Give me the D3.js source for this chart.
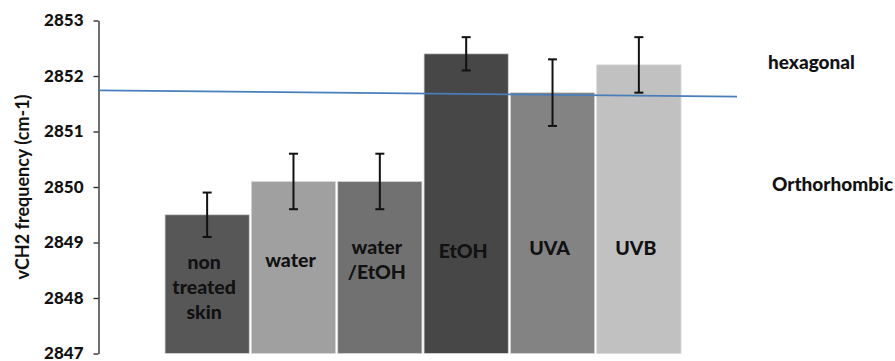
<!DOCTYPE html>
<html>
<head>
<meta charset="utf-8">
<script src="https://cdn.jsdelivr.net/npm/d3@7"></script>
<style>
  html, body { margin: 0; padding: 0; background: #fff; }
  svg { display: block; }
  text { font-family: Lato, "Open Sans", sans-serif; fill: #111; }
</style>
</head>
<body>
<svg id="chart" width="895" height="361"></svg>
<script>
// Treatments and mean CH2 stretching frequency with standard deviation
const categories = ["non treated skin", "water", "water /EtOH", "EtOH", "UVA", "UVB"];
const labelLines = [["non", "treated", "skin"], ["water"], ["water", "/EtOH"], ["EtOH"], ["UVA"], ["UVB"]];
const meanFreq = [2849.5, 2850.1, 2850.1, 2852.4, 2851.7, 2852.2];
const stdDev   = [0.4, 0.5, 0.5, 0.3, 0.6, 0.5];
const barColors = ["#575757", "#a0a0a0", "#717171", "#474747", "#838383", "#c1c1c1"];
const yTicks = [2847, 2848, 2849, 2850, 2851, 2852, 2853];
// Phase boundary line (start and end level)
const phaseBoundary = [2851.74, 2851.63];
const phaseLabels = ["hexagonal", "Orthorhombic"];
const phaseLabelValues = [2852.25, 2850.05];

const svg = d3.select("#chart");
const axisX = 98.5;

const y = d3.scaleLinear().domain([2847, 2853]).range([353.5, 20.5]);
const x = d3.scaleBand().domain(categories).range([165, 681]).paddingInner(0.024).paddingOuter(0);

// Bars
svg.append("g").selectAll("rect")
  .data(categories)
  .join("rect")
  .attr("x", d => x(d))
  .attr("width", x.bandwidth())
  .attr("y", (d, i) => y(meanFreq[i]))
  .attr("height", (d, i) => y(2847) - y(meanFreq[i]))
  .attr("fill", (d, i) => barColors[i])
  .attr("stroke", "#d8d8d8")
  .attr("stroke-width", 0.8);

// Labels inside the bars
const firstLineY = [262, 260, 247, 251, 248, 248];
const lineGap = 25;
const labelG = svg.append("g");
categories.forEach((c, i) => {
  const t = labelG.append("text")
    .attr("text-anchor", "middle")
    .attr("font-weight", 900)
    .attr("font-size", 19.5)
    .attr("fill", "#111");
  labelLines[i].forEach((ln, k) => {
    t.append("tspan")
      .attr("x", x(c) + x.bandwidth() / 2 - 3)
      .attr("y", firstLineY[i] + k * lineGap)
      .attr("dy", "0.35em")
      .text(ln);
  });
});

// Y axis
const yAxis = d3.axisLeft(y).tickValues(yTicks).tickFormat(d3.format("d")).tickSize(5).tickSizeOuter(0).tickPadding(10);
const axG = svg.append("g").attr("transform", `translate(${axisX},0)`).call(yAxis);
axG.select(".domain").attr("stroke", "#222").attr("stroke-width", 1.3);
axG.selectAll(".tick line").attr("stroke", "#222").attr("stroke-width", 1.3);
axG.selectAll(".tick text")
  .attr("font-family", "Lato, sans-serif")
  .attr("font-weight", 900)
  .attr("font-size", 17)
  .attr("fill", "#111");

// Y axis title
svg.append("text")
  .attr("transform", `translate(23,${(y(2847) + y(2853)) / 2}) rotate(-90)`)
  .attr("text-anchor", "middle")
  .attr("dy", "0.35em")
  .attr("font-size", 18)
  .attr("font-weight", 700)
  .text("vCH2 frequency (cm-1)");

// Phase boundary line
svg.append("line")
  .attr("x1", axisX)
  .attr("x2", x.range()[1] + 56)
  .attr("y1", y(phaseBoundary[0]))
  .attr("y2", y(phaseBoundary[1]))
  .attr("stroke", "#4a7ebb")
  .attr("stroke-width", 1.8);

// Error bars
const eg = svg.append("g").attr("stroke", "#111").attr("stroke-width", 2);
categories.forEach((c, i) => {
  const cx = x(c) + x.bandwidth() / 2;
  const top = y(meanFreq[i] + stdDev[i]);
  const bot = y(meanFreq[i] - stdDev[i]);
  eg.append("line").attr("x1", cx).attr("x2", cx).attr("y1", top).attr("y2", bot);
  eg.append("line").attr("x1", cx - 4.5).attr("x2", cx + 4.5).attr("y1", top).attr("y2", top);
  eg.append("line").attr("x1", cx - 4.5).attr("x2", cx + 4.5).attr("y1", bot).attr("y2", bot);
});

// Phase labels
const phaseX = [768, 772];
phaseLabels.forEach((p, i) => {
  svg.append("text")
    .attr("x", phaseX[i])
    .attr("y", y(phaseLabelValues[i]))
    .attr("dy", "0.35em")
    .attr("font-weight", 900)
    .attr("font-size", 19)
    .text(p);
});
</script>
</body>
</html>
